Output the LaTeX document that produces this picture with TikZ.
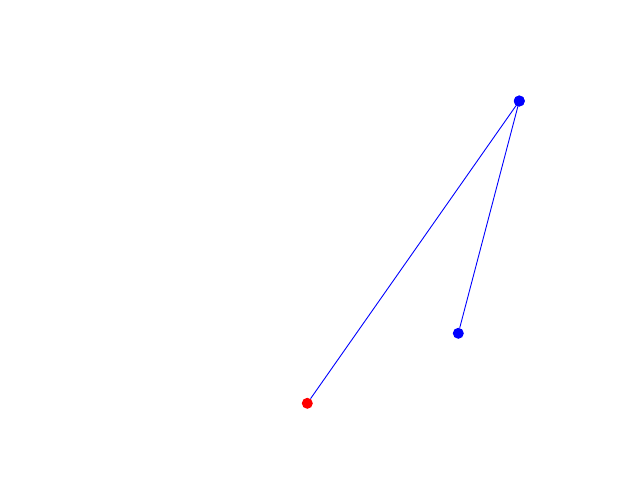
\documentclass[tikz,border=0pt]{standalone}
\begin{document}
\begin{tikzpicture}[x=1pt,y=-1pt,
  dotb/.style={circle,fill=blue,inner sep=0pt,minimum size=11pt},
  dotr/.style={circle,fill=red,inner sep=0pt,minimum size=11pt},
  edge/.style={blue,line width=0.9pt}]
\useasboundingbox[fill=white] (0,0) rectangle (640,480);
\node[dotb] (a) at (519.3,101) {};
\node[dotb] (b) at (458.3,333.3) {};
\node[dotr] (c) at (307.3,403.3) {};
\draw[edge] (a.center) -- (b);
\draw[edge] (a.center) -- (c);
\node[dotb] at (a) {};
\end{tikzpicture}
\end{document}
